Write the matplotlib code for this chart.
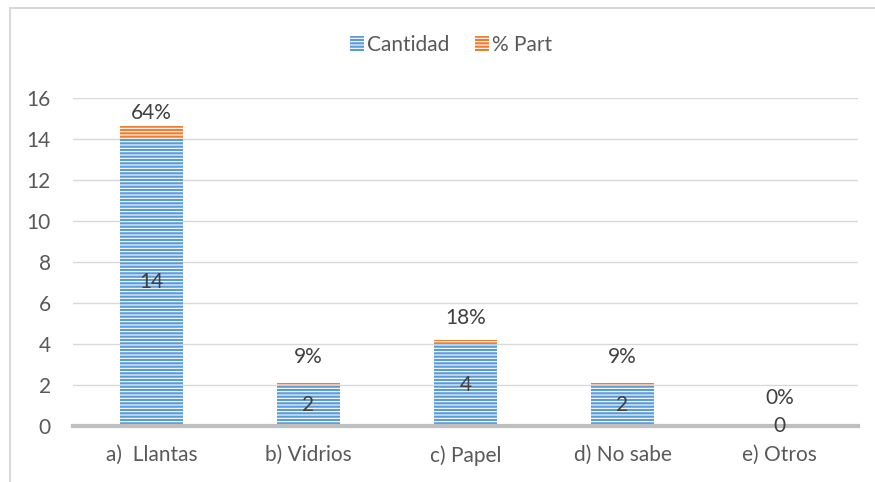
import matplotlib
matplotlib.use("Agg")
import matplotlib.pyplot as plt
from matplotlib.patches import Rectangle, Patch

categories = ["a)  Llantas", "b) Vidrios", "c) Papel", "d) No sabe", "e) Otros"]
cantidad = [14, 2, 4, 2, 0]
part = [0.64, 0.09, 0.18, 0.09, 0.0]
part_labels = ["64%", "9%", "18%", "9%", "0%"]
yticks = [0, 2, 4, 6, 8, 10, 12, 14, 16]

# style
label_offsets_px = [3, 16, 12, 16, 18]
blue = "#5b9bd5"
orange = "#ed7d31"
txt = "#595959"
fs = 15
plt.rcParams["font.family"] = ["Lato", "DejaVu Sans"]
plt.rcParams["hatch.linewidth"] = 0.8

W, H = 875, 482
fig = plt.figure(figsize=(W / 100, H / 100), dpi=100)
ax = fig.add_axes([73 / W, 1 - 425.7 / H, (858 - 73) / W, (425.7 - 97.7) / H])

x = list(range(len(categories)))
bw = 0.40
ax.bar(x, cantidad, width=bw, color=blue, edgecolor="white", hatch="-----",
       linewidth=0, zorder=3)
ax.bar(x, part, width=bw, bottom=cantidad, color=orange, edgecolor="white",
       hatch="-----", linewidth=0, zorder=3)

ax.set_xlim(-0.5, len(categories) - 0.5)
ax.set_ylim(0, 16)
ax.set_yticks(yticks)
ax.set_xticks(x)
ax.set_xticklabels(categories)
ax.tick_params(axis="both", length=0, labelsize=fs, colors=txt)
ax.tick_params(axis="x", pad=14)
ax.tick_params(axis="y", pad=16)
ax.grid(axis="y", color="#d9d9d9", linewidth=1, zorder=0)
for s in ["top", "right", "left"]:
    ax.spines[s].set_visible(False)
ax.spines["bottom"].set_color("#bfbfbf")
ax.spines["bottom"].set_linewidth(3)
ax.spines["bottom"].set_zorder(4)

for i in x:
    ax.text(i, cantidad[i] / 2, str(cantidad[i]), ha="center", va="center",
            fontsize=fs, color="#404040", zorder=5)
    ax.annotate(part_labels[i], (i, cantidad[i] + part[i]),
                xytext=(0, label_offsets_px[i] * 0.72), textcoords="offset points",
                ha="center", va="bottom", fontsize=fs, color="#404040", zorder=5)

handles = [Patch(facecolor=blue, edgecolor="white", hatch="-----", linewidth=0, label="Cantidad"),
           Patch(facecolor=orange, edgecolor="white", hatch="-----", linewidth=0, label="% Part")]
fig.legend(handles=handles, loc="center", bbox_to_anchor=(451 / W, 1 - 45 / H),
           ncol=2, frameon=False, fontsize=fs, labelcolor=txt,
           handlelength=0.7, handleheight=0.7, handletextpad=0.15, columnspacing=1.2)

fig.patches.append(Rectangle((9.5 / W, -0.1), 2, 1.1 - 7.5 / H, transform=fig.transFigure,
                             fill=False, edgecolor="#d9d9d9", linewidth=1.5))

fig.savefig("out.png", dpi=100, facecolor="white")
